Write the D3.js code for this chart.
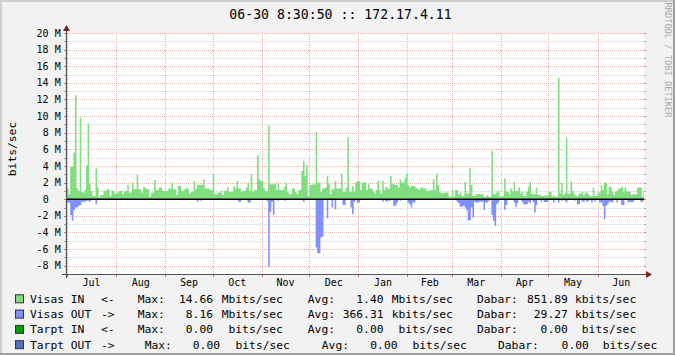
<!DOCTYPE html>
<html>
<head>
<meta charset="utf-8">
<script src="https://cdn.jsdelivr.net/npm/d3@7"></script>
<style>
  html, body { margin: 0; padding: 0; background: #f2f2f2; }
  svg { display: block; }
  text { font-family: "DejaVu Sans Mono", monospace; fill: #000; white-space: pre; }
</style>
</head>
<body>
<svg id="chart" width="675" height="355"></svg>
<script>
// daily averages in Mbit/s, first value = Jul 1 2012 (UTC)
const firstDay = Date.UTC(2012, 6, 1)

const visasIn = [
  1.3, 0.6, 3.9, 3.9, 5.6, 12.5, 1.3, 1.0, 9.8, 0.9,
  0.8, 1.1, 4.1, 9.1, 1.8, 1.0, 0.4, 0.4, 3.7, 1.4,
  0.3, 0.5, 0.5, 1.0, 1.0, 1.2, 1.2, 0.4, 1.0, 1.0,
  0.6, 0.8, 0.8, 1.0, 1.0, 0.6, 1.0, 1.0, 1.7, 0.8,
  0.8, 2.0, 1.2, 1.2, 2.9, 1.2, 1.2, 0.8, 1.4, 1.4,
  1.2, 1.2, 0.3, 0.8, 0.8, 2.3, 1.1, 1.1, 1.4, 1.4,
  1.0, 1.0, 1.0, 1.0, 1.3, 1.3, 2.0, 1.2, 1.2, 0.5,
  1.6, 1.6, 1.0, 1.0, 1.2, 1.4, 1.2, 0.7, 0.9, 0.9,
  2.2, 1.2, 1.7, 1.7, 1.7, 1.7, 2.4, 1.3, 1.3, 1.3,
  1.1, 1.1, 3.0, 0.6, 0.6, 0.8, 0.8, 1.0, 0.5, 1.0,
  1.0, 1.4, 0.9, 0.9, 0.9, 1.6, 1.3, 2.2, 1.3, 1.3,
  0.9, 1.0, 1.0, 1.4, 2.0, 1.0, 3.0, 0.9, 1.1, 1.1,
  5.3, 2.4, 2.2, 2.2, 1.3, 1.0, 1.0, 8.9, 1.8, 1.8,
  1.8, 1.8, 1.1, 2.0, 1.1, 1.1, 1.1, 1.5, 2.0, 0.9,
  0.6, 0.6, 1.3, 1.3, 0.9, 0.6, 1.1, 1.1, 3.4, 4.6,
  2.8, 4.1, 0.4, 1.7, 1.7, 1.8, 1.8, 8.1, 2.0, 2.0,
  0.9, 1.3, 1.3, 1.4, 2.8, 1.8, 0.6, 1.2, 1.2, 2.2,
  1.3, 1.3, 1.3, 3.1, 0.9, 0.9, 1.4, 7.5, 0.9, 0.9,
  1.6, 0.9, 2.0, 2.2, 2.2, 1.1, 2.0, 2.0, 2.0, 1.1,
  1.8, 1.3, 1.3, 1.0, 0.7, 1.1, 2.2, 1.1, 0.7, 2.2,
  1.1, 1.5, 1.3, 1.3, 2.8, 1.8, 1.8, 1.7, 1.7, 1.4,
  2.4, 2.0, 2.0, 2.5, 3.1, 1.7, 1.4, 1.6, 1.6, 1.6,
  1.3, 1.3, 1.1, 1.4, 1.4, 1.3, 1.3, 1.0, 1.0, 1.1,
  1.1, 2.4, 1.1, 3.1, 1.7, 0.8, 0.8, 0.7, 0.8, 0.8,
  0.8, 0.3, 0.3, 1.1, 0.3, 1.1, 1.1, 0.6, 0.8, 0.4,
  0.4, 2.1, 0.7, 0.7, 3.8, 1.7, 0.4, 0.4, 0.6, 0.6,
  0.7, 0.6, 0.6, 0.3, 0.3, 0.5, 0.3, 0.3, 5.8, 0.6,
  0.6, 0.8, 1.0, 0.4, 0.3, 0.4, 2.5, 0.9, 0.9, 0.6,
  1.3, 0.9, 2.1, 1.0, 1.0, 1.4, 0.7, 0.9, 0.4, 0.4,
  0.9, 1.5, 2.1, 0.7, 0.6, 0.6, 1.4, 0.5, 0.6, 0.4,
  0.4, 0.4, 0.5, 0.4, 0.9, 0.9, 0.3, 0.5, 0.3, 0.3,
  14.66, 0.7, 2.0, 0.5, 0.7, 7.4, 0.7, 0.7, 2.1, 1.0,
  0.6, 0.4, 0.4, 0.7, 0.7, 0.9, 0.5, 0.8, 0.8, 0.6,
  0.4, 0.4, 1.4, 0.4, 0.4, 0.8, 0.8, 1.7, 1.1, 2.0,
  2.0, 0.6, 1.5, 1.5, 0.9, 0.5, 0.9, 1.0, 1.3, 1.3,
  1.5, 0.9, 1.4, 1.0, 0.9, 0.9, 0.5, 0.6, 0.6, 0.6,
  1.4, 1.4, 1.4, 0.3, 0.9
]

const visasOut = [
  0.4, 0.4, 1.9, 2.6, 1.3, 1.0, 1.0, 0.8, 0.7, 0.3,
  0.3, 0.3, 0.2, 0.2, 0.3, 0.1, 0.1, 0.1, 0.6, 0.1,
  0.1, 0.1, 0.1, 0.1, 0.1, 0.1, 0.1, 0.1, 0.1, 0.1,
  0.1, 0.1, 0.1, 0.1, 0.1, 0.1, 0.1, 0.1, 0.1, 0.1,
  0.1, 0.1, 0.1, 0.1, 0.1, 0.1, 0.1, 0.1, 0.1, 0.1,
  0.1, 0.1, 0.1, 0.1, 0.1, 0.1, 0.1, 0.1, 0.1, 0.1,
  0.1, 0.1, 0.1, 0.1, 0.1, 0.1, 0.1, 0.1, 0.1, 0.1,
  0.1, 0.1, 0.1, 0.1, 0.1, 0.1, 0.1, 0.1, 0.1, 0.1,
  0.1, 0.1, 0.3, 0.1, 0.2, 0.1, 0.1, 0.1, 0.1, 0.1,
  0.1, 0.1, 0.1, 0.1, 0.1, 0.1, 0.1, 0.1, 0.1, 0.1,
  0.1, 0.1, 0.1, 0.1, 0.1, 0.1, 0.1, 0.1, 0.3, 0.3,
  0.1, 0.1, 0.1, 0.1, 0.4, 0.4, 0.1, 0.1, 0.1, 0.1,
  0.1, 0.1, 0.1, 0.1, 0.1, 0.1, 0.2, 8.16, 1.5, 0.3,
  1.9, 0.1, 0.1, 0.2, 0.1, 0.1, 0.1, 0.2, 0.1, 0.1,
  0.1, 0.1, 0.1, 0.1, 0.1, 0.1, 0.1, 0.1, 0.1, 0.3,
  0.1, 0.1, 0.1, 0.1, 0.1, 0.1, 0.1, 5.8, 6.5, 6.5,
  4.6, 4.5, 0.1, 0.1, 2.3, 0.1, 0.1, 1.0, 0.1, 1.2,
  0.1, 0.1, 0.1, 0.1, 0.7, 0.7, 0.1, 0.1, 0.1, 1.0,
  1.8, 0.3, 0.1, 0.4, 0.4, 0.1, 0.1, 0.1, 0.1, 0.1,
  0.1, 0.1, 0.1, 0.1, 0.1, 0.1, 0.1, 0.1, 0.1, 0.3,
  0.1, 0.3, 0.2, 0.2, 0.1, 0.1, 0.8, 0.8, 0.4, 0.1,
  0.2, 0.1, 0.1, 0.1, 0.1, 0.4, 0.6, 1.0, 0.4, 0.4,
  0.1, 0.1, 0.1, 0.1, 0.1, 0.1, 0.1, 0.1, 0.1, 0.1,
  0.1, 0.1, 0.1, 0.1, 0.1, 0.1, 0.1, 0.1, 0.1, 0.1,
  0.1, 0.1, 0.1, 0.1, 0.1, 0.1, 0.3, 0.5, 0.9, 0.9,
  0.8, 1.0, 1.3, 2.6, 2.5, 1.0, 2.2, 0.3, 0.4, 0.4,
  0.3, 0.3, 0.3, 1.3, 0.4, 0.4, 0.2, 0.1, 1.9, 2.6,
  3.2, 0.6, 0.4, 0.1, 0.1, 0.1, 1.3, 0.7, 0.1, 0.1,
  0.1, 0.1, 0.4, 0.9, 0.5, 0.1, 0.1, 0.35, 0.6, 0.6,
  0.6, 0.3, 0.5, 0.1, 0.35, 1.6, 0.7, 0.1, 0.1, 0.3,
  0.1, 0.35, 0.35, 0.3, 0.1, 0.1, 0.1, 0.4, 0.1, 0.1,
  0.4, 0.1, 0.2, 0.1, 0.2, 0.4, 0.1, 0.1, 0.1, 0.1,
  0.2, 0.1, 0.6, 0.6, 0.1, 0.3, 0.3, 0.1, 0.35, 0.2,
  0.1, 0.4, 0.1, 0.3, 0.1, 0.1, 0.4, 0.4, 0.8, 2.4,
  0.8, 0.6, 0.3, 0.3, 0.4, 0.1, 0.1, 0.4, 0.1, 0.1,
  0.7, 0.7, 0.1, 0.1, 0.4, 0.35, 0.35, 0.35, 0.1, 0.1,
  0.1, 0.1, 0.3, 0.3, 0.1
]

const yTickValues = [-8, -6, -4, -2, 0, 2, 4, 6, 8, 10, 12, 14, 16, 18, 20]

const title = '06-30 8:30:50 :: 172.17.4.11'
const yTitle = 'bits/sec'
const watermark = 'RRDTOOL / TOBI OETIKER'

const legendNames = ['Visas IN', 'Visas OUT', 'Tarpt IN', 'Tarpt OUT']
const legendDirs = ['<-', '->', '<-', '->']
const legendColors = ['#80dd80', '#8090ff', '#00a000', '#5070c8']
const legendMax = ['14.66', '8.16', '0.00', '0.00']
const legendMaxUnit = ['Mbits/sec', 'Mbits/sec', ' bits/sec', ' bits/sec']
const legendAvg = ['1.40', '366.31', '0.00', '0.00']
const legendAvgUnit = ['Mbits/sec', 'kbits/sec', ' bits/sec', ' bits/sec']
const legendCur = ['851.89', '29.27', '0.00', '0.00']
const legendCurUnit = ['kbits/sec', 'kbits/sec', ' bits/sec', ' bits/sec']

// layout
const W = 675, H = 355
const plotL = 66, plotR = 644, plotT = 33, plotB = 274
const dayMs = 864e5

const svg = d3.select('#chart')

const x = d3.scaleUtc()
  .domain([new Date(Date.UTC(2012, 5, 30, 8, 30, 50)), new Date(Date.UTC(2013, 5, 30, 8, 30, 50))])
  .range([plotL, plotR])

const y = d3.scaleLinear()
  .domain([-9, 20])
  .range([plotB, plotT])

// background and shaded frame
svg.append('rect')
  .attr('width', W)
  .attr('height', H)
  .attr('fill', '#f2f2f2')

svg.append('path')
  .attr('d', `M0,0H${W}V2H2V${H}H0Z`)
  .attr('fill', '#cfcfcf')

svg.append('path')
  .attr('d', `M${W},${H}H0V${H - 2}H${W - 2}V0H${W}Z`)
  .attr('fill', '#9e9e9e')

svg.append('rect')
  .attr('x', plotL)
  .attr('y', plotT)
  .attr('width', plotR - plotL)
  .attr('height', plotB - plotT)
  .attr('fill', '#ffffff')

// grid
const minorY = d3.range(-7, 20, 2)
const px = v => Math.round(v) + 0.5
const gridGrey = '#d2d2d2'
const gridRed = '#f0b0b0'

const grid = svg.append('g')
  .attr('shape-rendering', 'crispEdges')

grid.selectAll('line.minor')
  .data(minorY)
  .join('line')
  .attr('class', 'minor')
  .attr('x1', plotL)
  .attr('x2', plotR)
  .attr('y1', d => px(y(d)))
  .attr('y2', d => px(y(d)))
  .style('stroke', gridGrey)
  .style('stroke-dasharray', '1,1')

grid.selectAll('line.major')
  .data(yTickValues)
  .join('line')
  .attr('class', 'major')
  .attr('x1', plotL)
  .attr('x2', plotR)
  .attr('y1', d => px(y(d)))
  .attr('y2', d => px(y(d)))
  .style('stroke', gridRed)
  .style('stroke-dasharray', '1,1')

const months = d3.utcMonth.range(x.domain()[0], x.domain()[1])

grid.selectAll('line.vmajor')
  .data(months)
  .join('line')
  .attr('class', 'vmajor')
  .attr('x1', d => px(x(d)))
  .attr('x2', d => px(x(d)))
  .attr('y1', plotT)
  .attr('y2', plotB)
  .style('stroke', gridRed)
  .style('stroke-dasharray', '1,1')

// small ticks outside the canvas
const allY = d3.merge([minorY, yTickValues])

grid.selectAll('line.ytick')
  .data(allY)
  .join('line')
  .attr('class', 'ytick')
  .attr('x1', plotL - 2)
  .attr('x2', plotL)
  .attr('y1', d => px(y(d)))
  .attr('y2', d => px(y(d)))
  .style('stroke', d => d % 2 === 0 ? '#d87070' : '#a0a0a0')

grid.selectAll('line.ytick2')
  .data(allY)
  .join('line')
  .attr('class', 'ytick2')
  .attr('x1', plotR)
  .attr('x2', plotR + 2)
  .attr('y1', d => px(y(d)))
  .attr('y2', d => px(y(d)))
  .style('stroke', d => d % 2 === 0 ? '#d87070' : '#a0a0a0')

grid.selectAll('line.xtick')
  .data(months)
  .join('line')
  .attr('class', 'xtick')
  .attr('x1', d => px(x(d)))
  .attr('x2', d => px(x(d)))
  .attr('y1', plotB)
  .attr('y2', plotB + 3)
  .style('stroke', '#d87070')

// data areas
svg.append('clipPath')
  .attr('id', 'plotClip')
  .append('rect')
  .attr('x', plotL)
  .attr('y', plotT)
  .attr('width', plotR - plotL)
  .attr('height', plotB - plotT)

const toPoints = arr => {
  const pts = arr.map((v, i) => ({ t: new Date(firstDay + i * dayMs), v }))
  pts.push({ t: new Date(firstDay + arr.length * dayMs), v: arr[arr.length - 1] })
  return pts
}

const plot = svg.append('g')
  .attr('clip-path', 'url(#plotClip)')

plot.append('path')
  .datum(toPoints(visasIn))
  .attr('d', d3.area()
    .x(d => x(d.t))
    .y0(y(0))
    .y1(d => y(d.v))
    .curve(d3.curveStepAfter))
  .style('fill', legendColors[0])

plot.append('path')
  .datum(toPoints(visasOut))
  .attr('d', d3.area()
    .x(d => x(d.t))
    .y0(y(0))
    .y1(d => y(-d.v))
    .curve(d3.curveStepAfter))
  .style('fill', legendColors[1])

// zero line
svg.append('line')
  .attr('x1', plotL)
  .attr('x2', plotR)
  .attr('y1', y(0))
  .attr('y2', y(0))
  .style('stroke', '#000')
  .style('stroke-width', 1.6)

// axes and arrows
svg.append('line')
  .attr('x1', plotL - 4)
  .attr('x2', plotR + 4)
  .attr('y1', plotB + 0.5)
  .attr('y2', plotB + 0.5)
  .style('stroke', '#555')
  .style('stroke-width', 1.2)

svg.append('line')
  .attr('x1', plotL + 0.5)
  .attr('x2', plotL + 0.5)
  .attr('y1', plotB + 4)
  .attr('y2', plotT - 4)
  .style('stroke', '#555')
  .style('stroke-width', 1.2)

svg.append('path')
  .attr('d', `M${plotR + 2},${plotB - 3}L${plotR + 2},${plotB + 4}L${plotR + 8},${plotB + 0.5}Z`)
  .style('fill', '#801f1f')

svg.append('path')
  .attr('d', `M${plotL - 3},${plotT - 2}L${plotL + 4},${plotT - 2}L${plotL + 0.5},${plotT - 8}Z`)
  .style('fill', '#801f1f')

// axis labels
svg.append('g')
  .selectAll('text')
  .data(yTickValues)
  .join('text')
  .attr('x', 60.7)
  .attr('y', d => y(d) + 3.6)
  .attr('text-anchor', 'end')
  .style('font-size', '10px')
  .text(d => d === 0 ? '0  ' : `${d} M`)

const monthMids = d3.utcMonth.range(d3.utcMonth.floor(x.domain()[0]), x.domain()[1])
  .map(m => new Date((+m + +d3.utcMonth.offset(m, 1)) / 2))
  .filter(m => m >= x.domain()[0] && m <= x.domain()[1])

svg.append('g')
  .selectAll('text')
  .data(monthMids)
  .join('text')
  .attr('x', d => x(d))
  .attr('y', 285.5)
  .attr('text-anchor', 'middle')
  .style('font-size', '10px')
  .text(d3.utcFormat('%b'))

svg.append('text')
  .attr('transform', 'translate(15.5, 149) rotate(-90)')
  .attr('text-anchor', 'middle')
  .style('font-size', '11.3px')
  .text(yTitle)

svg.append('text')
  .attr('x', 340.5)
  .attr('y', 18.5)
  .attr('text-anchor', 'middle')
  .style('font-size', '13.2px')
  .text(title)

svg.append('text')
  .attr('transform', 'translate(665, 60) rotate(90)')
  .attr('text-anchor', 'middle')
  .style('font-size', '8.7px')
  .style('fill', '#a8a8a8')
  .text(watermark)

// legend
const rowY = i => 302.8 + i * 15.3
const rowShift = [0, 0, 0, 7]
const groups = [
  { label: 'Max:', lx: 137.7, nx: 213, ux: 221.7, vals: legendMax, units: legendMaxUnit },
  { label: 'Avg:', lx: 307.8, nx: 383.5, ux: 391.7, vals: legendAvg, units: legendAvgUnit },
  { label: 'Dabar:', lx: 477, nx: 567.8, ux: 575, vals: legendCur, units: legendCurUnit }
]

const legend = svg.append('g')
  .style('font-size', '11.3px')

legendNames.forEach((name, i) => {
  const ly = rowY(i)
  legend.append('rect')
    .attr('x', 15.5)
    .attr('y', ly - 8)
    .attr('width', 8)
    .attr('height', 8)
    .style('fill', legendColors[i])
    .style('stroke', '#333')
    .style('stroke-width', 1)
  legend.append('text').attr('x', 30).attr('y', ly).text(name)
  legend.append('text').attr('x', 101).attr('y', ly).text(legendDirs[i])
  groups.forEach((g, k) => {
    const s = rowShift[i] * (k + 1)
    legend.append('text').attr('x', g.lx + s).attr('y', ly).text(g.label)
    legend.append('text').attr('x', g.nx + s).attr('y', ly).attr('text-anchor', 'end').text(g.vals[i])
    legend.append('text').attr('x', g.ux + s).attr('y', ly).text(g.units[i])
  })
})
</script>
</body>
</html>
